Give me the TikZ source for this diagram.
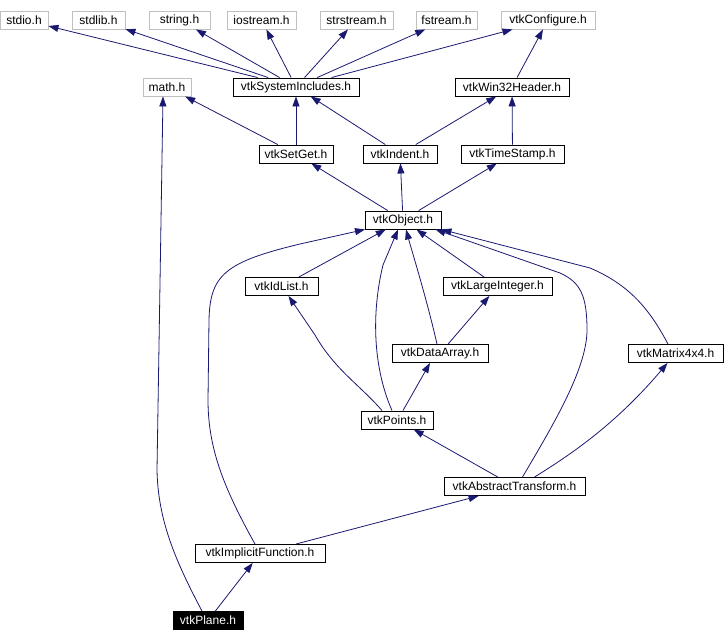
\documentclass[tikz,border=0pt]{standalone}
\usepackage{fontspec}
\setmainfont{Liberation Sans}
\usetikzlibrary{arrows.meta}
\definecolor{edgeblue}{HTML}{191970}
\definecolor{sysgrey}{HTML}{BFBFBF}

\begin{document}
\begin{tikzpicture}[x=1pt, y=-1pt,
        hdr/.style={draw=black, line width=0.9pt, minimum height=18pt, inner sep=0pt,
            font=\fontsize{12}{14}\selectfont},
        syshdr/.style={hdr, draw=sysgrey},
        dep/.style={draw=edgeblue, line width=0.8pt, -{Triangle[length=10pt,width=7pt]}}]
    \useasboundingbox (0,0) rectangle (725,642);

    % system headers
    \node[syshdr, minimum width=48pt] (stdio) at (24,20) {stdio.h};
    \node[syshdr, minimum width=53pt] (stdlib) at (98.5,20) {stdlib.h};
    \node[syshdr, minimum width=61pt] (string) at (179.5,20) {string.h};
    \node[syshdr, minimum width=69pt] (iostream) at (261.5,20) {iostream.h};
    \node[syshdr, minimum width=73pt] (strstream) at (356.5,20) {strstream.h};
    \node[syshdr, minimum width=61pt] (fstream) at (446.5,20) {fstream.h};
    \node[syshdr, minimum width=94pt] (config) at (548,20) {vtkConfigure.h};
    \node[syshdr, minimum width=48pt] (math) at (167,87) {math.h};

    % vtk headers
    \node[hdr, minimum width=126pt] (sysinc) at (296,87) {vtkSystemIncludes.h};
    \node[hdr, minimum width=114pt] (win32) at (512,87) {vtkWin32Header.h};
    \node[hdr, minimum width=74pt] (setget) at (296,154) {vtkSetGet.h};
    \node[hdr, minimum width=74pt] (indent) at (400,154) {vtkIndent.h};
    \node[hdr, minimum width=103pt] (tstamp) at (512.5,154) {vtkTimeStamp.h};
    \node[hdr, minimum width=76pt] (obj) at (403,220) {vtkObject.h};
    \node[hdr, minimum width=73pt] (idlist) at (281.5,286.5) {vtkIdList.h};
    \node[hdr, minimum width=109pt] (largeint) at (497.5,286.5) {vtkLargeInteger.h};
    \node[hdr, minimum width=96pt] (darr) at (440,353.5) {vtkDataArray.h};
    \node[hdr, minimum width=95pt] (mat) at (675.5,353.5) {vtkMatrix4x4.h};
    \node[hdr, minimum width=72pt] (pts) at (397,420) {vtkPoints.h};
    \node[hdr, minimum width=141pt] (abst) at (514.5,486.5) {vtkAbstractTransform.h};
    \node[hdr, minimum width=130pt] (impl) at (260,553.5) {vtkImplicitFunction.h};
    \node[hdr, minimum width=70pt, fill=black, text=white] (plane) at (208,620.5) {vtkPlane.h};

    % includes of vtkSystemIncludes.h
    \foreach \h in {stdio, stdlib, string, iostream, strstream, fstream, config}
        \draw[dep] (sysinc) -- (\h);
    \draw[dep] (win32) -- (config);
    \draw[dep] (setget) -- (math);
    \draw[dep] (setget) -- (sysinc);
    \draw[dep] (indent) -- (sysinc);
    \draw[dep] (indent) -- (win32);
    \draw[dep] (tstamp) -- (win32);
    \draw[dep] (obj) -- (setget);
    \draw[dep] (obj) -- (indent);
    \draw[dep] (obj) -- (tstamp);
    \draw[dep] (idlist) -- (obj);
    \draw[dep] (largeint) -- (obj);
    \draw[dep] (darr) -- (largeint);
    \draw[dep] ([xshift=-3pt]darr.north) .. controls (427,300) and (413,255) .. ([xshift=3pt]obj.south);
    \draw[dep] ([xshift=-7.5pt]mat.north) .. controls (650,310) and (630,285) .. (590,268) -- (obj.south east);
    \draw[dep] ([xshift=-5pt]pts.north) .. controls (372,365) and (372,310) .. (383,265) -- ([xshift=-5pt]obj.south);
    \draw[dep] ([xshift=-15pt]pts.north) .. controls (360,385) and (335,370) .. (315,335) -- ([xshift=7pt]idlist.south);
    \draw[dep] ([xshift=6pt]pts.north) -- ([xshift=-10pt]darr.south);
    \draw[dep] (abst) -- (pts);
    \draw[dep] ([xshift=8pt]abst.north) .. controls (550,430) and (587,370) .. (587,330)
        .. controls (587,295) and (580,282) .. (560,273) -- ([xshift=-6pt]obj.south east);
    \draw[dep] ([xshift=20pt]abst.north) .. controls (570,455) and (615,425) .. ([xshift=-8pt]mat.south);
    \draw[dep] ([xshift=-5pt]impl.north) .. controls (225,490) and (208,450) .. (208,400) -- (209,320)
        .. controls (210,275) and (225,262) .. (300,244) -- ([xshift=-38pt]obj.south);
    \draw[dep] (impl) -- (abst);
    \draw[dep] (plane) -- (impl);
    \draw[dep] ([xshift=-6pt]plane.north) .. controls (175,560) and (158,520) .. (157,470) -- ([xshift=-4pt]math.south);
\end{tikzpicture}
\end{document}
